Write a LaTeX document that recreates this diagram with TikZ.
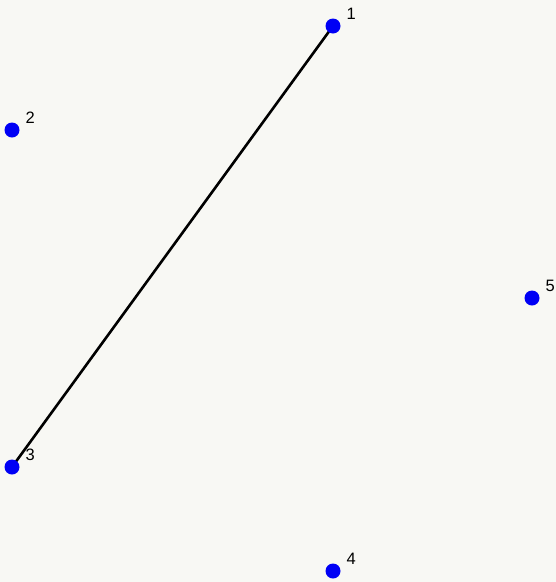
\documentclass[tikz,border=0pt]{standalone}
\usepackage{fontspec}
\setmainfont{Liberation Sans}
\usetikzlibrary{positioning}
\definecolor{bgpaper}{RGB}{248,248,244}
\definecolor{dotblue}{RGB}{0,0,245}
\tikzset{
  vtx/.style ={circle, fill=dotblue, inner sep=0pt, minimum size=15pt},
  lbl/.style ={inner sep=0pt, font=\fontsize{16.5}{16.5}\selectfont},
  edge/.style={line width=2.6pt, draw=black},
}

\begin{document}
\begin{tikzpicture}[x=1pt, y=-1pt]
\fill[bgpaper] (0,0) rectangle (556,582);
\useasboundingbox (0,0) rectangle (556,582);
\draw[edge] (333,26) -- (12,467);
\node[vtx] (p1) at (333,26) {};
\node[vtx] (p2) at (12,130) {};
\node[vtx] (p3) at (12,467) {};
\node[vtx] (p4) at (333,571) {};
\node[vtx] (p5) at (532,298) {};
\foreach \v/\t in {p1/1,p2/2,p3/3,p4/4,p5/5}
  \node[lbl, above right=1pt and 8pt of \v] (l\t) {\t};
\end{tikzpicture}
\end{document}
